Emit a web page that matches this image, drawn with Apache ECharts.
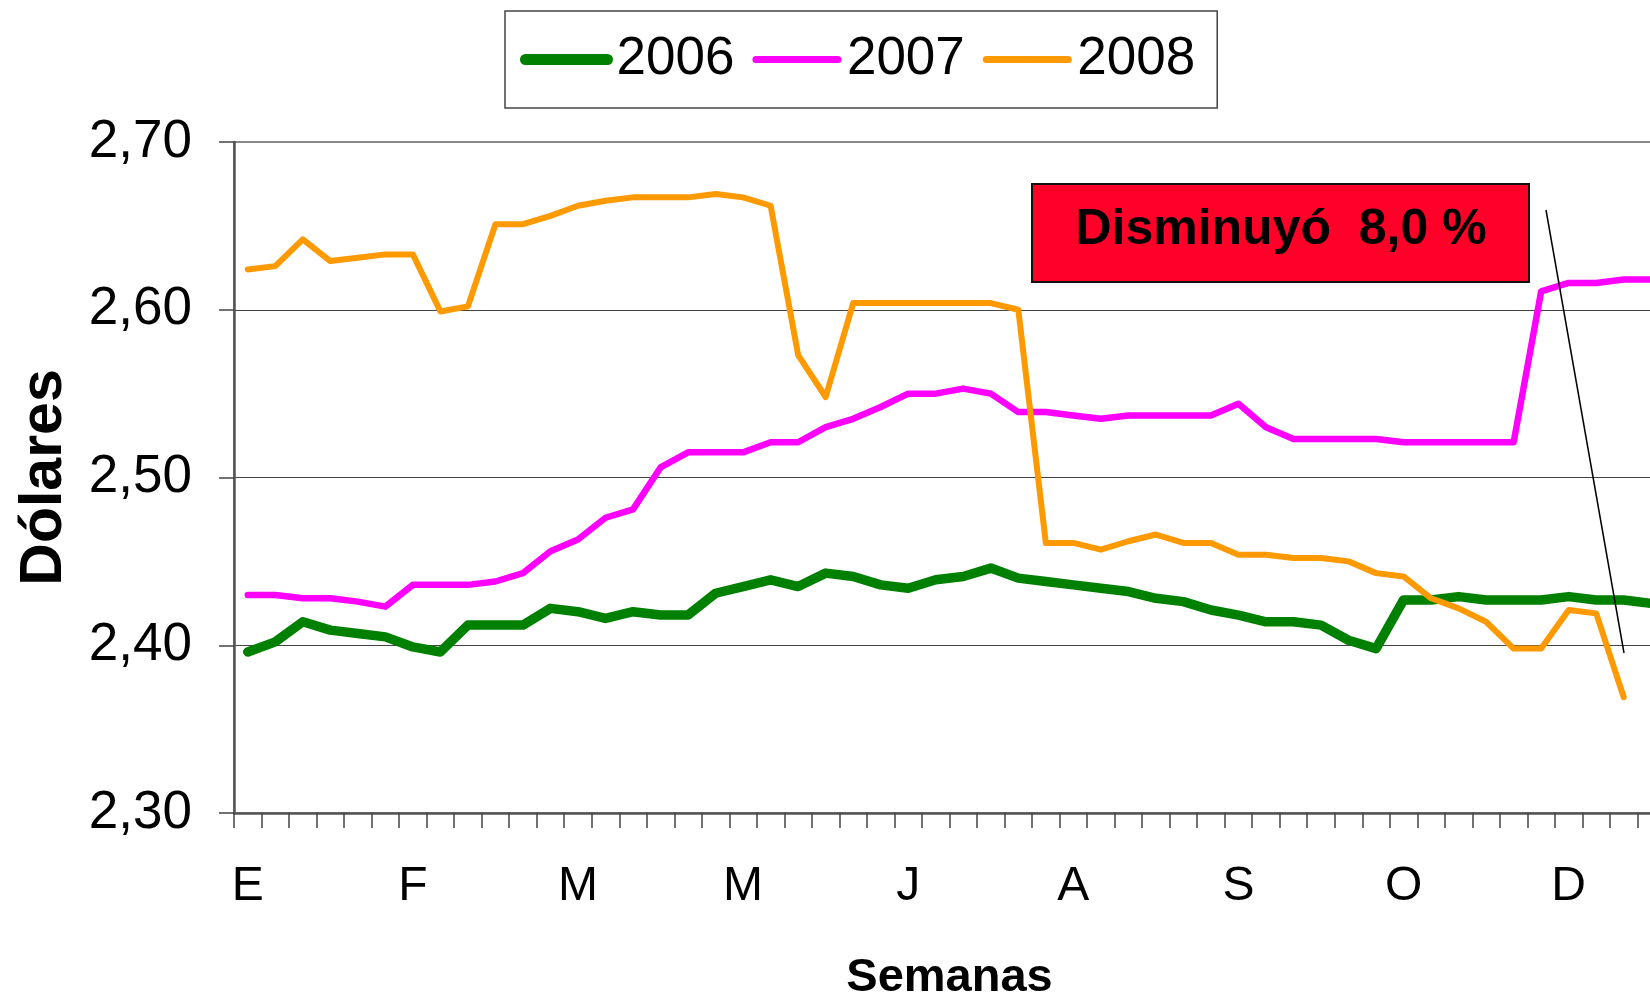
<!DOCTYPE html>
<html>
<head>
<meta charset="utf-8">
<script src="https://cdn.jsdelivr.net/npm/echarts@6/dist/echarts.min.js"></script>
<style>
  html, body { margin: 0; padding: 0; background: #fff; }
  #chart { width: 1650px; height: 1002px; }
</style>
</head>
<body>
<div id="chart"></div>
<script>
// weekly categories, month initial of each week
const weeks = [
  "E", "E", "E", "E", "F", "F", "F", "F", "M", "M", "M", "M", "M",
  "A", "A", "A", "A", "M", "M", "M", "M", "M", "J", "J", "J", "J",
  "J", "J", "J", "J", "A", "A", "A", "A", "A", "S", "S", "S", "S",
  "O", "O", "O", "O", "N", "N", "N", "N", "N", "D", "D", "D", "D"
];

const years = ["2006", "2007", "2008"];

const price2006 = [
  2.396, 2.402, 2.414, 2.409, 2.407, 2.405, 2.399, 2.396, 2.412, 2.412, 2.412, 2.422, 2.420,
  2.416, 2.420, 2.418, 2.418, 2.431, 2.435, 2.439, 2.435, 2.443, 2.441, 2.436, 2.434, 2.439,
  2.441, 2.446, 2.440, 2.438, 2.436, 2.434, 2.432, 2.428, 2.426, 2.421, 2.418, 2.414, 2.414,
  2.412, 2.403, 2.398, 2.427, 2.427, 2.429, 2.427, 2.427, 2.427, 2.429, 2.427, 2.427, 2.425
];

const price2007 = [
  2.430, 2.430, 2.428, 2.428, 2.426, 2.423, 2.436, 2.436, 2.436, 2.438, 2.443, 2.456, 2.463,
  2.476, 2.481, 2.506, 2.515, 2.515, 2.515, 2.521, 2.521, 2.530, 2.535, 2.542, 2.550, 2.550,
  2.553, 2.550, 2.539, 2.539, 2.537, 2.535, 2.537, 2.537, 2.537, 2.537, 2.544, 2.530, 2.523,
  2.523, 2.523, 2.523, 2.521, 2.521, 2.521, 2.521, 2.521, 2.611, 2.616, 2.616, 2.618, 2.618
];

const price2008 = [
  2.624, 2.626, 2.642, 2.629, 2.631, 2.633, 2.633, 2.599, 2.602, 2.651, 2.651, 2.656, 2.662,
  2.665, 2.667, 2.667, 2.667, 2.669, 2.667, 2.662, 2.573, 2.548, 2.604, 2.604, 2.604, 2.604,
  2.604, 2.604, 2.600, 2.461, 2.461, 2.457, 2.462, 2.466, 2.461, 2.461, 2.454, 2.454, 2.452,
  2.452, 2.450, 2.443, 2.441, 2.428, 2.422, 2.414, 2.398, 2.398, 2.421, 2.419, 2.369
];

const yTicks = { min: 2.3, max: 2.7, step: 0.1 };

const font = '"Liberation Sans", Arial, sans-serif';

const chart = echarts.init(document.getElementById("chart"));

chart.setOption({
  animation: false,
  backgroundColor: "#fff",
  grid: {
    left: 234,
    right: -15,
    top: 142,
    bottom: 189,
    outerBoundsMode: "none",
    containLabel: false,
    show: true,
    borderColor: "#888",
    borderWidth: 2,
    backgroundColor: "transparent"
  },
  legend: {
    left: 505,
    top: 11,
    padding: [22, 22, 22, 15],
    itemWidth: 82,
    itemHeight: 8,
    itemGap: 18,
    borderColor: "#444",
    borderWidth: 1.5,
    backgroundColor: "#fff",
    textStyle: {
      fontFamily: font,
      fontSize: 53,
      color: "#000",
      padding: [0, 0, 0, 4]
    },
    data: [
      { name: years[0], lineStyle: { width: 11, cap: "round" } },
      { name: years[1], lineStyle: { width: 7, cap: "round" } },
      { name: years[2], lineStyle: { width: 7, cap: "round" } }
    ]
  },
  xAxis: {
    type: "category",
    data: weeks,
    boundaryGap: true,
    name: "Semanas",
    nameLocation: "middle",
    nameGap: 142,
    nameTextStyle: {
      fontFamily: font,
      fontSize: 47,
      fontWeight: "bold",
      color: "#000"
    },
    axisLine: { lineStyle: { color: "#555", width: 2.5 } },
    axisTick: {
      show: true,
      interval: 0,
      length: 15,
      lineStyle: { color: "#444", width: 1.5 }
    },
    axisLabel: {
      interval: 5,
      margin: 50,
      fontFamily: font,
      fontSize: 48,
      color: "#000"
    },
    splitLine: { show: false }
  },
  yAxis: {
    type: "value",
    min: yTicks.min,
    max: yTicks.max,
    interval: yTicks.step,
    name: "Dólares",
    nameLocation: "middle",
    nameRotate: 90,
    nameGap: 160,
    nameTextStyle: {
      fontFamily: font,
      fontSize: 59,
      fontWeight: "bold",
      color: "#000"
    },
    axisLine: { show: true, lineStyle: { color: "#555", width: 2.5 } },
    axisTick: {
      show: true,
      length: 15,
      lineStyle: { color: "#444", width: 1.5 }
    },
    axisLabel: {
      margin: 42,
      fontFamily: font,
      fontSize: 53,
      color: "#000",
      formatter: (v) => v.toFixed(2).replace(".", ",")
    },
    splitLine: {
      show: true,
      lineStyle: { color: ["#444", "#444", "#444", "#444", "#888"], width: 1.2 }
    }
  },
  series: [
    {
      name: years[0],
      type: "line",
      data: price2006,
      symbol: "none",
      color: "#008000",
      lineStyle: { width: 9.5, color: "#008000", cap: "round", join: "round" },
      z: 3
    },
    {
      name: years[1],
      type: "line",
      data: price2007,
      symbol: "none",
      color: "#FF00FF",
      lineStyle: { width: 6.5, color: "#FF00FF", cap: "round", join: "round" },
      z: 4
    },
    {
      name: years[2],
      type: "line",
      data: price2008,
      symbol: "none",
      color: "#FF9900",
      lineStyle: { width: 6, color: "#FF9900", cap: "round", join: "round" },
      z: 5
    }
  ],
  graphic: [
    {
      type: "rect",
      shape: { x: 1032, y: 184, width: 497, height: 98 },
      style: { fill: "rgb(255,0,40)", stroke: "#111", lineWidth: 2 },
      z: 10
    },
    {
      type: "text",
      x: 1281,
      y: 230,
      style: {
        text: "Disminuyó  8,0 %",
        fontFamily: font,
        fontSize: 50,
        fontWeight: "bold",
        fill: "#000",
        align: "center",
        verticalAlign: "middle"
      },
      z: 11
    },
    {
      type: "line",
      shape: { x1: 1546, y1: 210, x2: 1624, y2: 653 },
      style: { stroke: "#000", lineWidth: 1.5 },
      z: 10
    }
  ]
});
</script>
</body>
</html>
